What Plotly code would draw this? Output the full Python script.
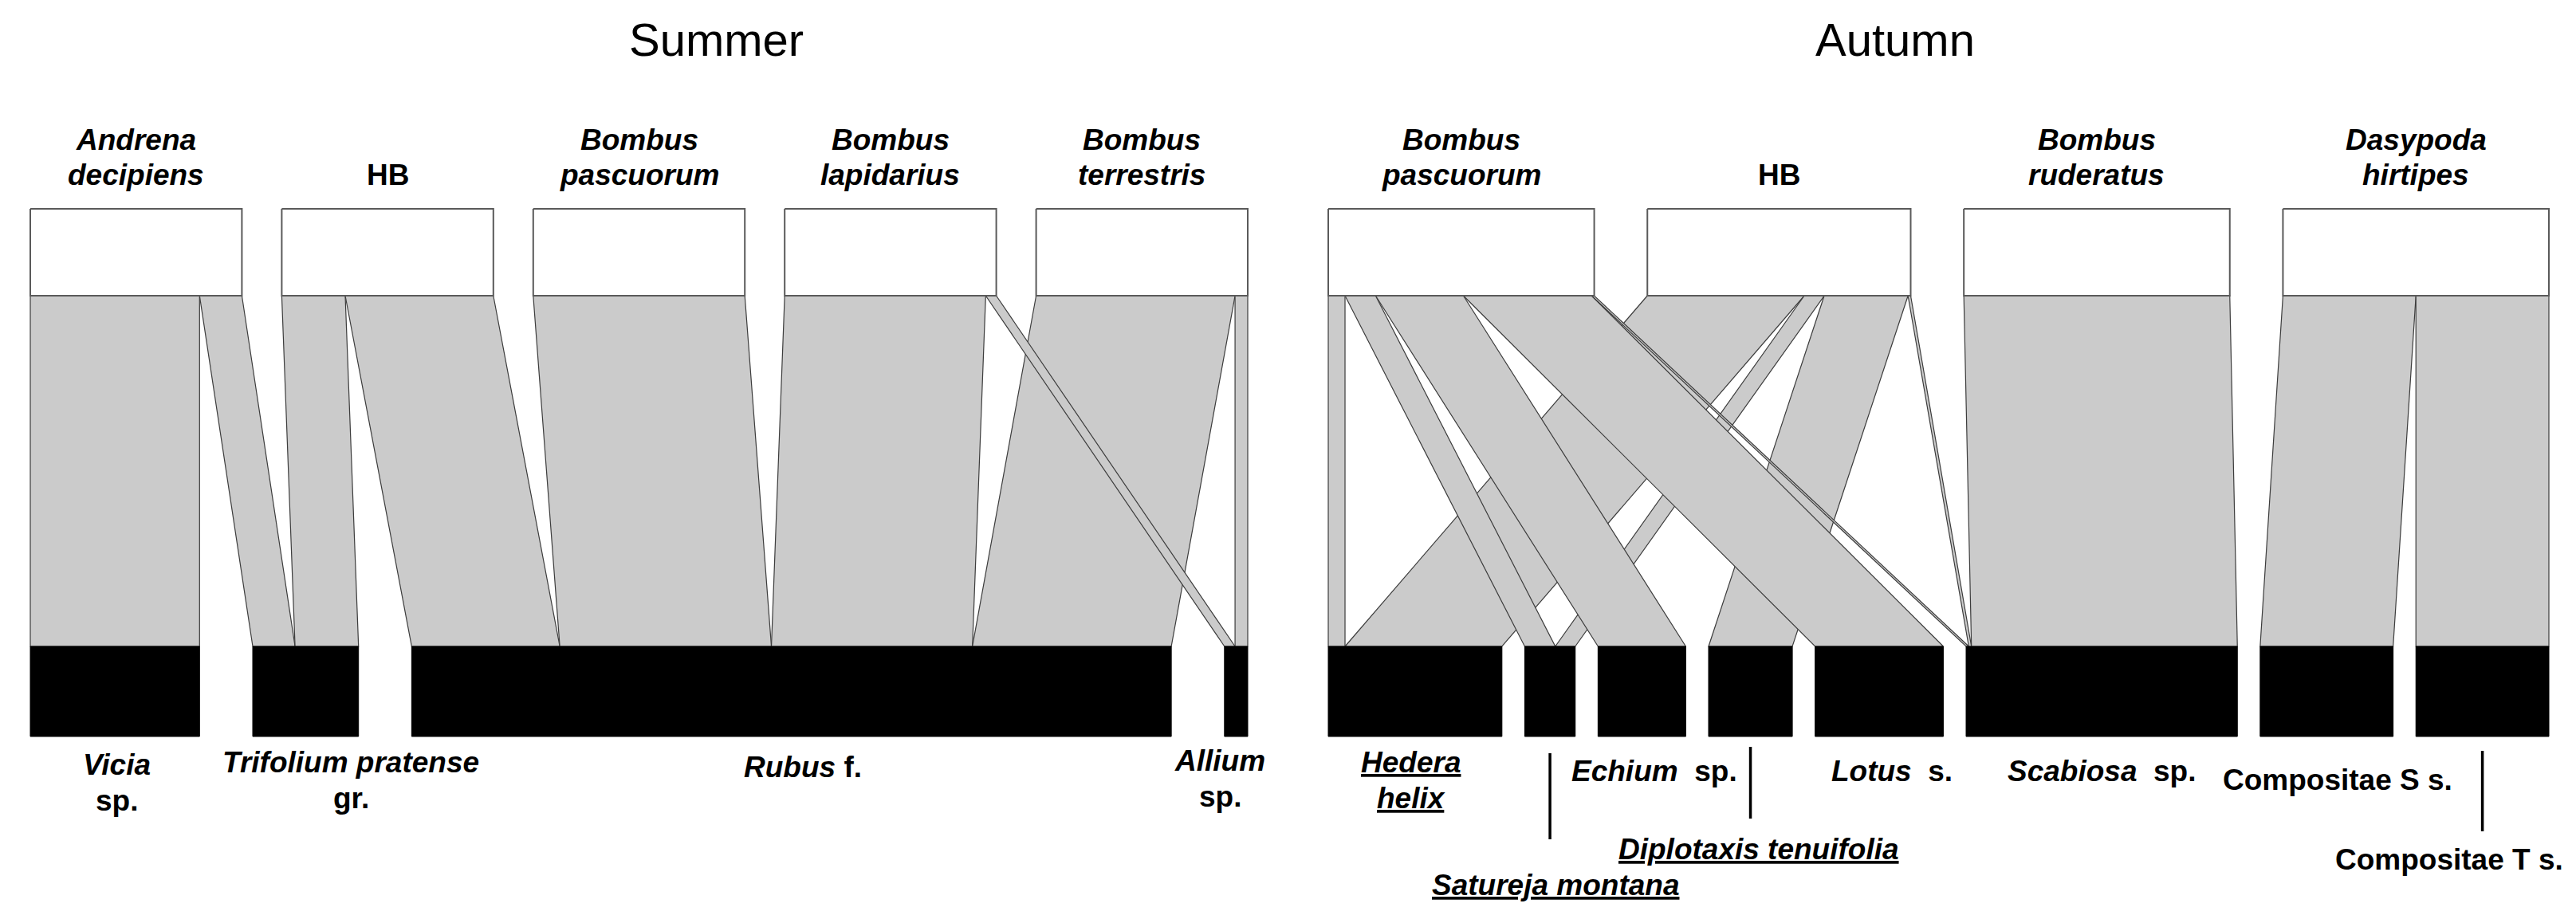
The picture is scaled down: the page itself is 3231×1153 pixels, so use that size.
import plotly.graph_objects as go

W, H = 3231, 1153

# ---------------- data ----------------
# Summer: proportion of each pollinator's visits to each plant
summer_pollinators = ["Andrena decipiens", "HB", "Bombus pascuorum", "Bombus lapidarius", "Bombus terrestris"]
summer_plants = ["Vicia sp.", "Trifolium pratense gr.", "Rubus f.", "Allium sp."]
summer_plant_labels = ["<i>Vicia</i><br>sp.", "<i>Trifolium pratense</i><br>gr.", "<i>Rubus</i> f.", "<i>Allium</i><br>sp."]
# rows = plants, columns = pollinators
summer_web = [
    [0.80, 0.00, 0.00, 0.00, 0.00],   # Vicia sp.
    [0.20, 0.30, 0.00, 0.00, 0.00],   # Trifolium pratense gr.
    [0.00, 0.70, 1.00, 0.95, 0.94],   # Rubus f.
    [0.00, 0.00, 0.00, 0.05, 0.06],   # Allium sp.
]

autumn_pollinators = ["Bombus pascuorum", "HB", "Bombus ruderatus", "Dasypoda hirtipes"]
autumn_plants = ["Hedera helix", "Satureja montana", "Echium sp.", "Diplotaxis tenuifolia",
                 "Lotus s.", "Scabiosa sp.", "Compositae S s.", "Compositae T s."]
autumn_plant_labels = ["<u><i>Hedera</i></u><br><u><i>helix</i></u>", "<u><i>Satureja montana</i></u>",
                       "<i>Echium</i>&nbsp; sp.", "<u><i>Diplotaxis tenuifolia</i></u>",
                       "<i>Lotus</i>&nbsp; s.", "<i>Scabiosa</i>&nbsp; sp.",
                       "Compositae S s.", "Compositae T s."]
autumn_web = [
    [0.063, 0.590, 0.00, 0.00],   # Hedera helix
    [0.115, 0.075, 0.00, 0.00],   # Satureja montana
    [0.330, 0.000, 0.00, 0.00],   # Echium sp.
    [0.000, 0.315, 0.00, 0.00],   # Diplotaxis tenuifolia
    [0.482, 0.000, 0.00, 0.00],   # Lotus s.
    [0.010, 0.010, 1.00, 0.00],   # Scabiosa sp.
    [0.000, 0.000, 0.00, 0.50],   # Compositae S s.
    [0.000, 0.000, 0.00, 0.50],   # Compositae T s.
]

# ---------------- layout constants (pixels) ----------------
FONT = "Liberation Sans, Arial, sans-serif"
LAB = 37
LINE = 45
TITLE = 58
GAP_TOTAL = 200
Y_TOP0, Y_TOP1 = 262, 371
Y_BOT0, Y_BOT1 = 811, 924
TOP_BASE = (187, 231)

panels = [
    dict(title="Summer", title_x=898, x0=38, x1=1565,
         pols=summer_pollinators, plants=summer_plants, plabels=summer_plant_labels, web=summer_web,
         # (dx from box centre, first-line baseline, leader line (y0, y1) or None)
         lab=[(2, 971, None), (57, 968, None), (14, 974, None), (-20, 966, None)]),
    dict(title="Autumn", title_x=2377, x0=1666, x1=3197,
         pols=autumn_pollinators, plants=autumn_plants, plabels=autumn_plant_labels, web=autumn_web,
         lab=[(-5, 968, None), (7, 1122, (945, 1053)), (16, 979, None), (10, 1077, (937, 1027)),
              (16, 979, None), (0, 979, None), (14, 990, None), (-42, 1090, (942, 1043))]),
]


def level_positions(totals, x0, x1, gap_total):
    k = (x1 - x0 - gap_total) / sum(totals)
    gap = gap_total / (len(totals) - 1)
    pos, x = [], x0
    for t in totals:
        pos.append((x, x + t * k))
        x += t * k + gap
    return pos, k


def text_line(x, baseline, txt, size):
    return dict(x=x, y=baseline - 0.905 * size - 1, xref="x", yref="y", text=txt,
                showarrow=False, xanchor="center", yanchor="top",
                font=dict(family=FONT, size=size, color="black"))


fig = go.Figure()
annotations = []

for p in panels:
    web = p["web"]
    nP, nA = len(web), len(web[0])
    pol_tot = [sum(web[i][j] for i in range(nP)) for j in range(nA)]
    pl_tot = [sum(web[i]) for i in range(nP)]
    top_pos, k = level_positions(pol_tot, p["x0"], p["x1"], GAP_TOTAL)
    bot_pos, _ = level_positions(pl_tot, p["x0"], p["x1"], GAP_TOTAL)

    # link segment positions on top boxes (ordered by plant) and bottom boxes (ordered by pollinator)
    top_seg = {}
    for j in range(nA):
        x = top_pos[j][0]
        for i in range(nP):
            w = web[i][j] * k
            top_seg[(i, j)] = (x, x + w)
            x += w
    bot_seg = {}
    for i in range(nP):
        x = bot_pos[i][0]
        for j in range(nA):
            w = web[i][j] * k
            bot_seg[(i, j)] = (x, x + w)
            x += w

    # links
    for i in range(nP):
        for j in range(nA):
            if web[i][j] <= 0:
                continue
            a0, a1 = top_seg[(i, j)]
            b0, b1 = bot_seg[(i, j)]
            fig.add_trace(go.Scatter(
                x=[a0, a1, b1, b0, a0], y=[Y_TOP1, Y_TOP1, Y_BOT0, Y_BOT0, Y_TOP1],
                mode="lines", fill="toself", fillcolor="#cbcbcb",
                line=dict(color="#3c3c3c", width=1.2), hoverinfo="skip", showlegend=False))

    # top (pollinator) boxes
    for j in range(nA):
        a0, a1 = top_pos[j]
        fig.add_trace(go.Scatter(
            x=[a0, a1, a1, a0, a0], y=[Y_TOP0, Y_TOP0, Y_TOP1, Y_TOP1, Y_TOP0],
            mode="lines", fill="toself", fillcolor="white",
            line=dict(color="#5a5a5a", width=2), hoverinfo="skip", showlegend=False))
        name = p["pols"][j]
        cx = (a0 + a1) / 2
        if name == "HB":
            annotations.append(text_line(cx, TOP_BASE[1], "<b>HB</b>", LAB))
        else:
            for li, part in enumerate(name.split(" ")):
                annotations.append(text_line(cx, TOP_BASE[li], "<b><i>%s</i></b>" % part, LAB))

    # bottom (plant) boxes
    for i in range(nP):
        b0, b1 = bot_pos[i]
        fig.add_trace(go.Scatter(
            x=[b0, b1, b1, b0, b0], y=[Y_BOT0, Y_BOT0, Y_BOT1, Y_BOT1, Y_BOT0],
            mode="lines", fill="toself", fillcolor="black",
            line=dict(color="black", width=1), hoverinfo="skip", showlegend=False))
        dx, base, leader = p["lab"][i]
        cx = (b0 + b1) / 2
        for li, s in enumerate(p["plabels"][i].split("<br>")):
            annotations.append(text_line(cx + dx, base + li * LINE, "<b>%s</b>" % s, LAB))
        if leader:
            fig.add_trace(go.Scatter(x=[cx, cx], y=list(leader), mode="lines",
                                     line=dict(color="black", width=3.5),
                                     hoverinfo="skip", showlegend=False))

    annotations.append(text_line(p["title_x"], 68, p["title"], TITLE))

fig.update_layout(
    width=W, height=H, margin=dict(l=0, r=0, t=0, b=0),
    paper_bgcolor="white", plot_bgcolor="white",
    xaxis=dict(range=[0, W], visible=False, fixedrange=True),
    yaxis=dict(range=[H, 0], visible=False, fixedrange=True),
    annotations=annotations, showlegend=False,
)

fig.write_html("out.html", config={"displayModeBar": False},
               post_script="document.body.style.margin='0';document.body.style.overflow='hidden';")
